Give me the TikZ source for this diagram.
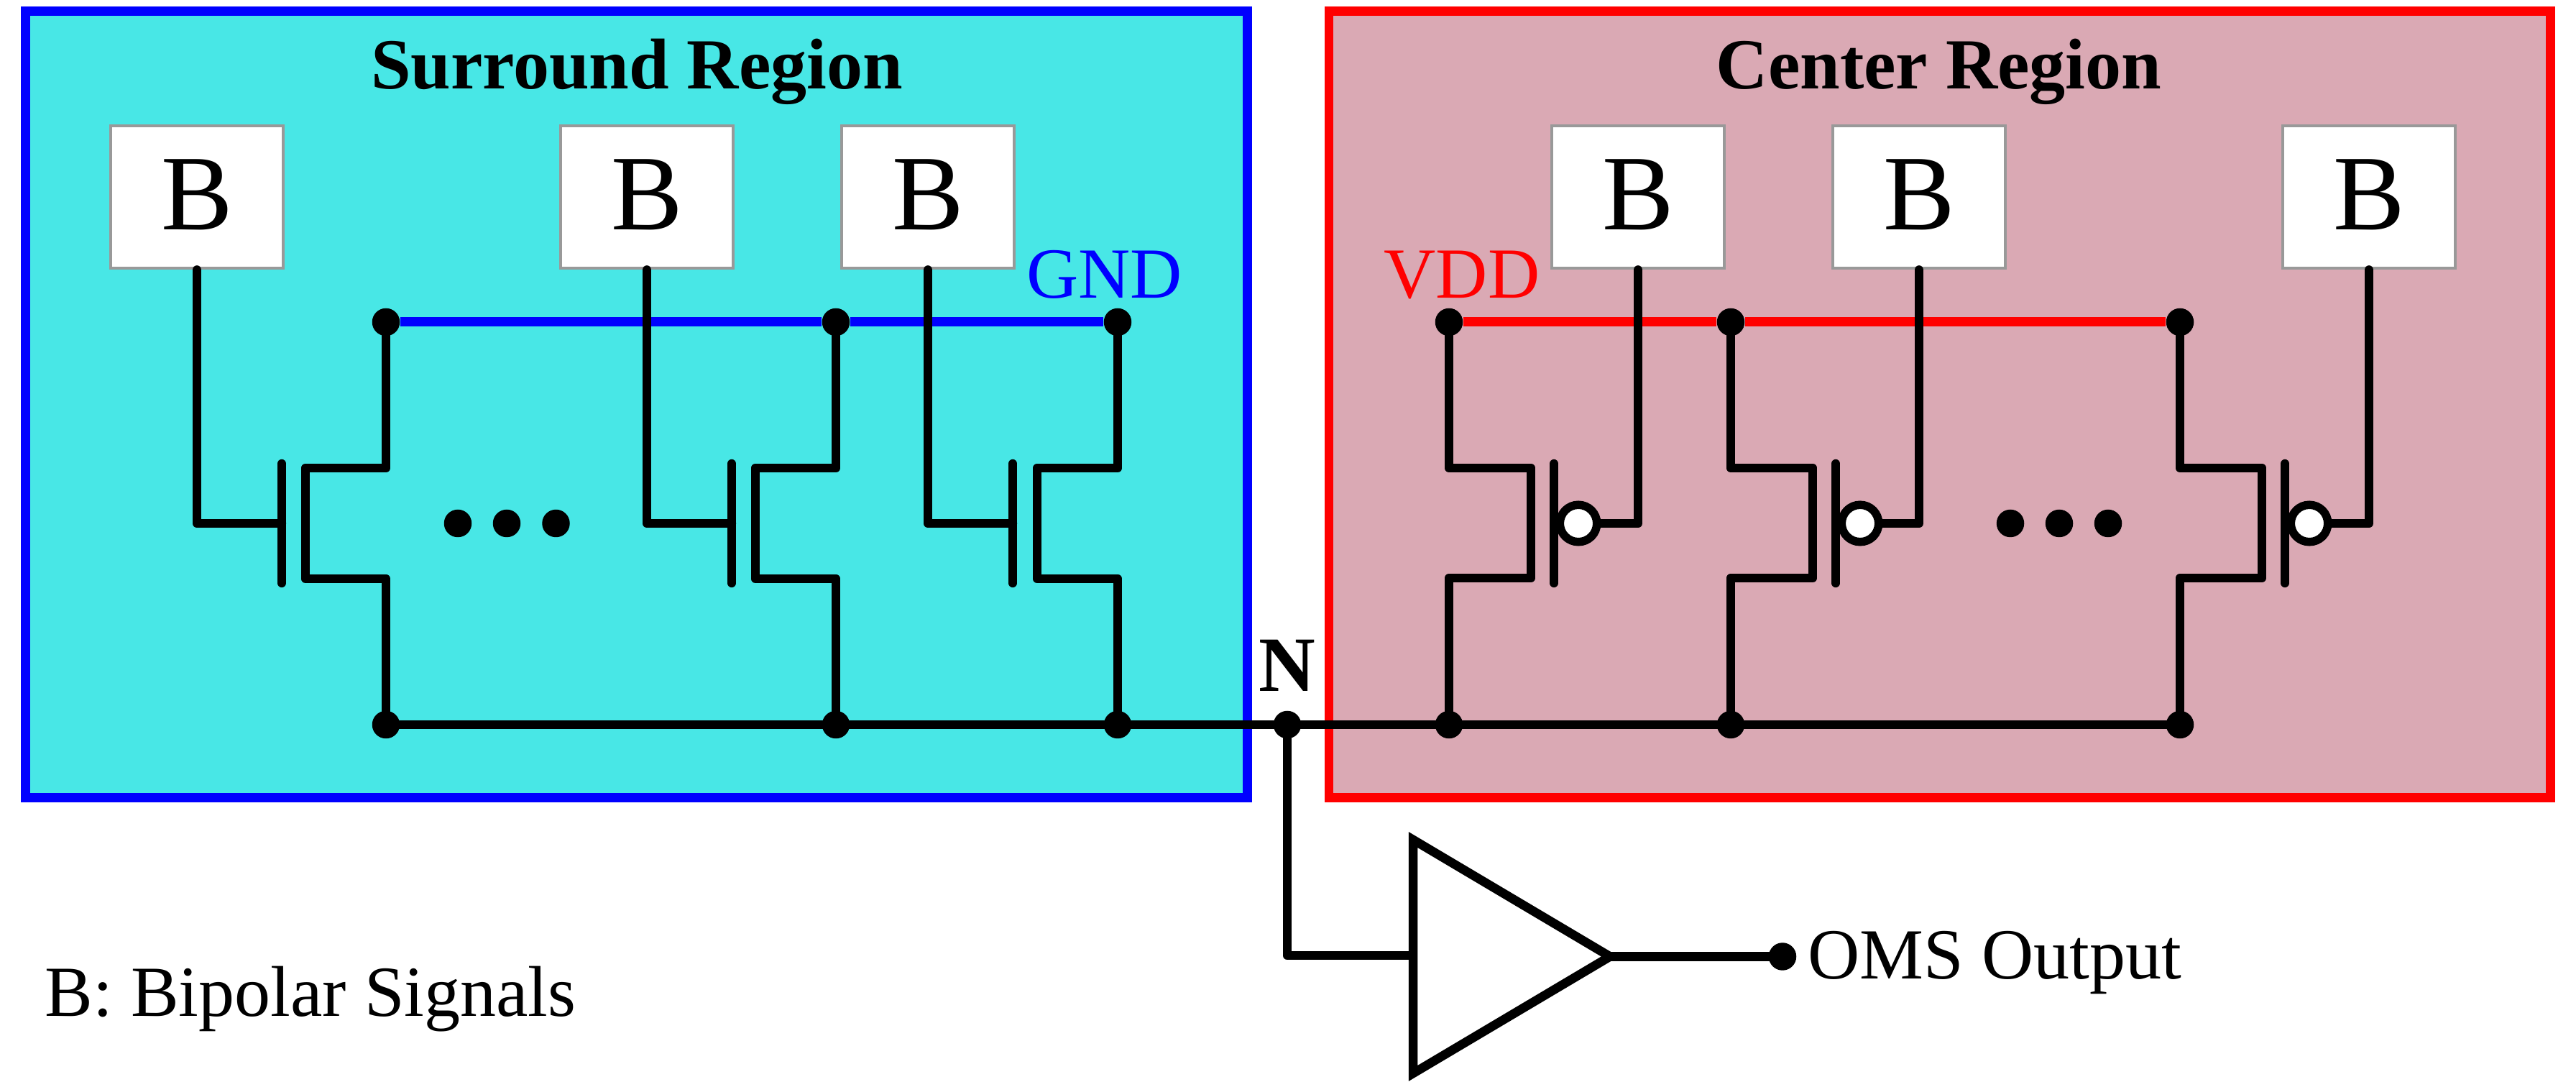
\documentclass[tikz,border=0pt]{standalone}
\usepackage{fontspec}
\setmainfont{Liberation Serif}
\definecolor{surroundfill}{HTML}{48E7E6}
\definecolor{centerfill}{HTML}{DAA9B4}
\definecolor{boxgray}{HTML}{999999}
\tikzset{
  region/.style={line width=0.125cm, line join=miter},
  wire/.style={line width=0.123cm, line cap=round, line join=round},
  rail/.style={line width=0.13cm},
  dot/.style={circle, fill=black, inner sep=0pt, minimum size=0.385cm},
  bubble/.style={circle, draw=black, fill=white, line width=0.115cm, inner sep=0pt, minimum size=0.515cm},
  bipolar/.style={draw=boxgray, fill=white, line width=0.047cm, minimum width=2.4cm, minimum height=1.98cm,
    inner sep=0pt, text depth=0.06cm, font=\fontsize{42.5}{48}\selectfont},
  textlabel/.style={anchor=base, inner sep=0pt, font=\fontsize{28.45}{34}\selectfont}
}
\begin{document}
\begin{tikzpicture}[y=-1cm]
  \useasboundingbox (0, 0) rectangle (35.84, 15.05);

  \draw[region, draw=blue, fill=surroundfill] (0.355, 0.155) rectangle (17.355, 11.095);
  \draw[region, draw=red, fill=centerfill] (18.49, 0.155) rectangle (35.485, 11.095);

  \node[textlabel, font=\fontsize{28.45}{34}\selectfont\bfseries] (surround) at (8.86, 1.24) {Surround Region};
  \node[textlabel, font=\fontsize{28.45}{34}\selectfont\bfseries] (center) at (26.975, 1.24) {Center Region};
  \node[textlabel, blue] (gndtext) at (15.365, 4.15) {GND};
  \node[textlabel, red] (vddtext) at (20.34, 4.15) {VDD};
  \node[textlabel, font=\fontsize{31}{36}\selectfont\bfseries] (ntext) at (17.91, 9.62) {N};
  \node[textlabel, anchor=base west] (omstext) at (25.15, 13.62) {OMS Output};
  \node[textlabel, anchor=base west] (legend) at (0.62, 14.13) {B: Bipolar Signals};

  \node[bipolar] (b1) at (2.74, 2.74) {B};
  \node[bipolar] (b2) at (9.00, 2.74) {B};
  \node[bipolar] (b3) at (12.91, 2.74) {B};
  \node[bipolar] (b4) at (22.79, 2.74) {B};
  \node[bipolar] (b5) at (26.70, 2.74) {B};
  \node[bipolar] (b6) at (32.96, 2.74) {B};

  \node[dot] (gnd1) at (5.37, 4.48) {};
  \node[dot] (gnd2) at (11.63, 4.48) {};
  \node[dot] (gnd3) at (15.55, 4.48) {};
  \node[dot] (vdd1) at (20.16, 4.48) {};
  \node[dot] (vdd2) at (24.08, 4.48) {};
  \node[dot] (vdd3) at (30.33, 4.48) {};
  \node[dot] (bus1) at (5.37, 10.08) {};
  \node[dot] (bus2) at (11.63, 10.08) {};
  \node[dot] (bus3) at (15.55, 10.08) {};
  \node[dot] (bus4) at (20.16, 10.08) {};
  \node[dot] (bus5) at (24.08, 10.08) {};
  \node[dot] (bus6) at (30.33, 10.08) {};
  \node[dot] (n) at (17.91, 10.08) {};
  \node[dot] (oms) at (24.80, 13.305) {};

  \node[dot] (more1) at (6.37, 7.28) {};
  \node[dot] (more2) at (7.05, 7.28) {};
  \node[dot] (more3) at (7.735, 7.28) {};
  \node[dot] (more4) at (27.97, 7.28) {};
  \node[dot] (more5) at (28.65, 7.28) {};
  \node[dot] (more6) at (29.33, 7.28) {};

  \draw[rail, blue] (gnd1) -- (gnd2) -- (gnd3);
  \draw[rail, red] (vdd1) -- (vdd2) -- (vdd3);
  \draw[wire] (bus1.center) -- (bus2.center) -- (bus3.center) -- (n.center) -- (bus4.center) -- (bus5.center) -- (bus6.center);

  \coordinate (g1) at (3.92, 7.28);
  \coordinate (g2) at (10.18, 7.28);
  \coordinate (g3) at (14.09, 7.28);
  \draw[wire] (b1.south) |- (g1);
  \draw[wire] (b2.south) |- (g2);
  \draw[wire] (b3.south) |- (g3);
  \draw[wire] (g1) ++(0, -0.83) -- ++(0, 1.66);
  \draw[wire] (g2) ++(0, -0.83) -- ++(0, 1.66);
  \draw[wire] (g3) ++(0, -0.83) -- ++(0, 1.66);
  \draw[wire] (gnd1.center) -- ++(0, 2.03) -- ++(-1.12, 0) -- ++(0, 1.54) -- ++(1.12, 0) -- (bus1.center);
  \draw[wire] (gnd2.center) -- ++(0, 2.03) -- ++(-1.12, 0) -- ++(0, 1.54) -- ++(1.12, 0) -- (bus2.center);
  \draw[wire] (gnd3.center) -- ++(0, 2.03) -- ++(-1.12, 0) -- ++(0, 1.54) -- ++(1.12, 0) -- (bus3.center);

  \node[bubble] (p1) at (21.96, 7.28) {};
  \node[bubble] (p2) at (25.88, 7.28) {};
  \node[bubble] (p3) at (32.13, 7.28) {};
  \draw[wire] (b4.south) |- (p1);
  \draw[wire] (b5.south) |- (p2);
  \draw[wire] (b6.south) |- (p3);
  \draw[wire] (21.62, 6.45) -- (21.62, 8.11);
  \draw[wire] (25.54, 6.45) -- (25.54, 8.11);
  \draw[wire] (31.79, 6.45) -- (31.79, 8.11);
  \draw[wire] (vdd1.center) -- ++(0, 2.03) -- ++(1.14, 0) -- ++(0, 1.53) -- ++(-1.14, 0) -- (bus4.center);
  \draw[wire] (vdd2.center) -- ++(0, 2.03) -- ++(1.14, 0) -- ++(0, 1.53) -- ++(-1.14, 0) -- (bus5.center);
  \draw[wire] (vdd3.center) -- ++(0, 2.03) -- ++(1.14, 0) -- ++(0, 1.53) -- ++(-1.14, 0) -- (bus6.center);

  \coordinate (ampin) at (19.66, 13.29);
  \coordinate (ampout) at (22.40, 13.305);
  \draw[wire] (n.center) |- (ampin);
  \draw[wire] (ampout) -- (oms.center);
  \draw[line width=0.125cm, line join=miter, fill=white] (19.66, 11.68) -- (ampout) -- (19.66, 14.93) -- cycle;
\end{tikzpicture}
\end{document}
